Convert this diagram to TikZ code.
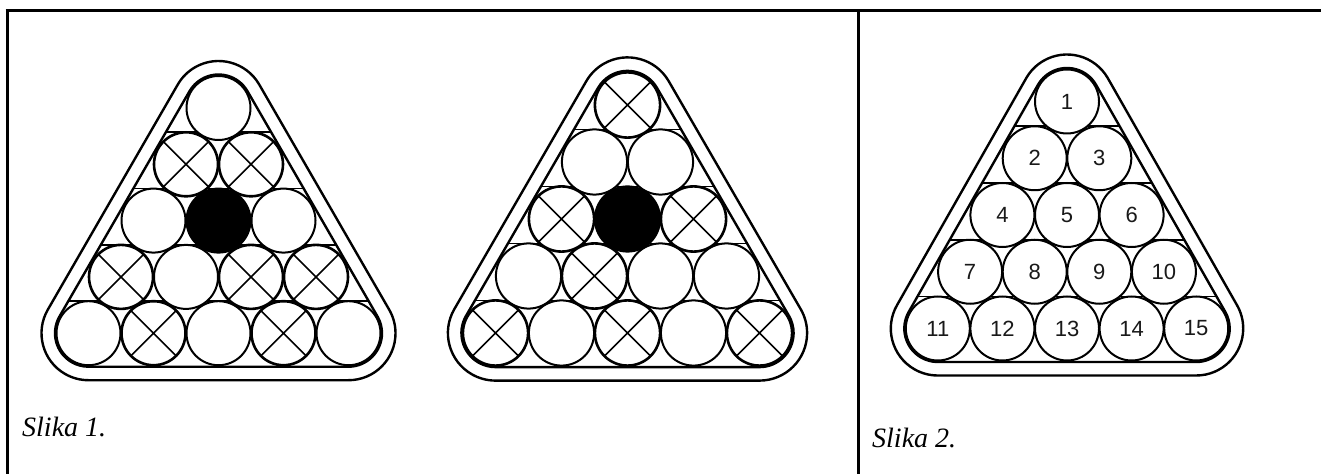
\documentclass[tikz,border=0pt]{standalone}
\usepackage{fontspec}
\setmainfont{Liberation Serif}
\newfontfamily\numfont{Liberation Sans}
\newcommand\rackpath[2]{([shift={(30:#2)}]#1A) arc[start angle=30,end angle=150,radius=#2] -- ([shift={(150:#2)}]#1B) arc[start angle=150,end angle=270,radius=#2] -- ([shift={(270:#2)}]#1C) arc[start angle=270,end angle=390,radius=#2] -- cycle}
\newcommand\drawrack[2]{%
  \pgfmathsetmacro\rout{\rr+15}%
  \pgfmathsetmacro\rin{\rr+1.5}%
  \pgfmathsetmacro\bd{2*\rr}%
  \coordinate (#1A) at (\rax,\ray);
  \coordinate (#1B) at (\rax-2*\rs,\ray-4*\rdy);
  \coordinate (#1C) at (\rax+2*\rs,\ray-4*\rdy);
  \draw[frame] \rackpath{#1}{\rout};
  \draw[frame] \rackpath{#1}{\rin};
  \begin{scope}
    \clip \rackpath{#1}{\rin};
    \foreach \i in {1,...,4}
      \draw[rowline] (\rax-260,\ray-\i*\rdy+\rr) -- (\rax+260,\ray-\i*\rdy+\rr);
  \end{scope}
  \foreach \i/\j/\t/\lab in {#2}
    \node[ball\t,minimum size=\bd pt] (#1-\i-\j) at (\rax+\j*\rs-\i*\rs/2,\ray-\i*\rdy) {\lab};
}
\begin{document}
\begin{tikzpicture}[x=1pt,y=1pt,
  border/.style={line width=3pt},
  frame/.style={line width=2.4pt},
  rowline/.style={line width=1.6pt},
  ballo/.style={circle,draw,line width=2pt,fill=white,inner sep=0pt,outer sep=0pt,
    font=\numfont\fontsize{22}{22}\selectfont,text=black!90},
  ballx/.style={ballo,line width=2.6pt,
    path picture={\draw[line width=1.6pt] (path picture bounding box.north east) -- (path picture bounding box.south west)
      (path picture bounding box.north west) -- (path picture bounding box.south east);}},
  ballb/.style={ballo,fill=black},
  caption/.style={anchor=base west,inner sep=0pt,font=\itshape\fontsize{28}{28}\selectfont}]
\useasboundingbox (0,0) rectangle (1321,474);
% table borders
\coordinate (tl) at (5.5,463);
\coordinate (tr) at (1321,463);
\coordinate (lb) at (7,0);
\coordinate (lt) at (7,464.5);
\coordinate (mt) at (858,463);
\coordinate (mb) at (858,0);
\draw[border] (tl) -- (tr);
\draw[border] (lt) -- (lb);
\draw[border] (mt) -- (mb);
% triangle 1
\def\rax{218.5}\def\ray{366}\def\rs{65}\def\rdy{56.3}\def\rr{32}
\drawrack{ta}{0/0/o/{}, 1/0/x/{}, 1/1/x/{}, 2/0/o/{}, 2/1/b/{}, 2/2/o/{},
  3/0/x/{}, 3/1/o/{}, 3/2/x/{}, 3/3/x/{},
  4/0/o/{}, 4/1/x/{}, 4/2/o/{}, 4/3/x/{}, 4/4/o/{}}
% triangle 2
\def\rax{627.5}\def\ray{369}\def\rs{66}\def\rdy{57}\def\rr{32.6}
\drawrack{tb}{0/0/x/{}, 1/0/o/{}, 1/1/o/{}, 2/0/x/{}, 2/1/b/{}, 2/2/x/{},
  3/0/o/{}, 3/1/x/{}, 3/2/o/{}, 3/3/o/{},
  4/0/x/{}, 4/1/o/{}, 4/2/x/{}, 4/3/o/{}, 4/4/x/{}}
% triangle 3
\def\rax{1067}\def\ray{372.5}\def\rs{64.6}\def\rdy{56.75}\def\rr{32}
\drawrack{tc}{0/0/o/1, 1/0/o/2, 1/1/o/3, 2/0/o/4, 2/1/o/5, 2/2/o/6,
  3/0/o/7, 3/1/o/8, 3/2/o/9, 3/3/o/10,
  4/0/o/11, 4/1/o/12, 4/2/o/13, 4/3/o/14, 4/4/o/15}
% captions
\node[caption] (cap1) at (22,38) {Slika 1.};
\node[caption] (cap2) at (872,27) {Slika 2.};
\end{tikzpicture}
\end{document}
